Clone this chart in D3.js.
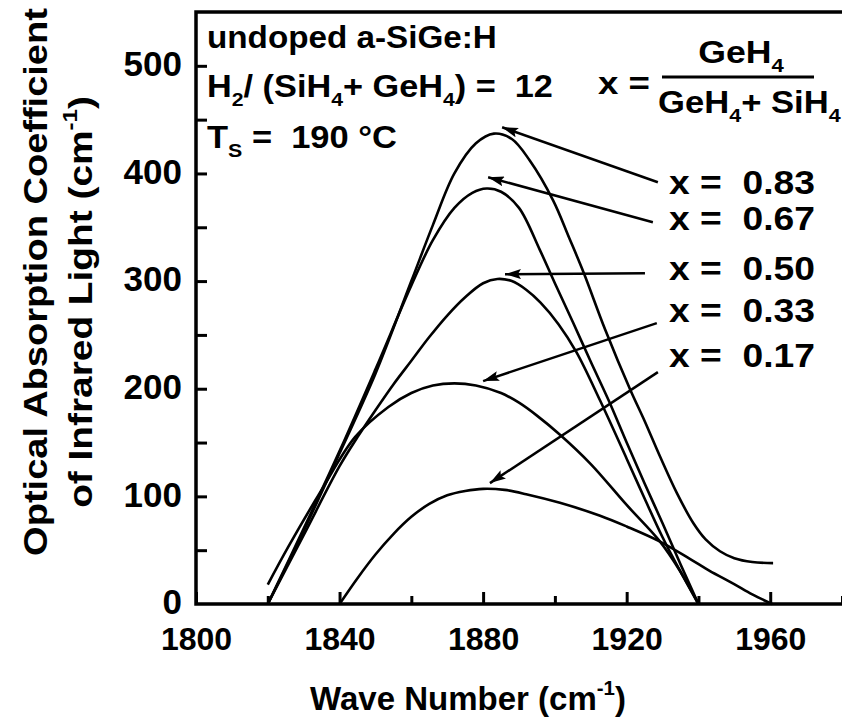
<!DOCTYPE html>
<html><head><meta charset="utf-8">
<script src="https://cdn.jsdelivr.net/npm/d3@7"></script>
<style>
html,body{margin:0;padding:0;background:#fff;}
svg text{font-family:"Liberation Sans",Arial,Helvetica,sans-serif;font-weight:bold;fill:#000;}
</style></head><body>
<svg id="chart" width="842" height="722"></svg>
<script>
// ---------- data ----------
const waveMinorTicks = [1820,1860,1900,1940,1980];
const waveMajorTicks = [1800,1840,1880,1920,1960];
const alphaTicks = [50,100,150,200,250,300,350,400,450,500];
const alphaLabels = [0,100,200,300,400,500];

const wn083 = [1820,1830,1840,1850,1860,1866,1872,1878,1883,1888,1893,1899.5,1904,1908,1914,1921,1925,1929.3,1934,1938.6,1942,1946,1950,1955,1960.8];
const al083 = [0,68,140,214,300,352,400,428,437,432,412,375,340,308,255,199,170,137,103,75,60,49,42.5,39,38];

const wn067 = [1820,1830,1840,1850,1860,1866,1872,1877,1881,1885,1890,1895.8,1900,1905,1910,1915,1920,1925,1930,1935,1940];
const al067 = [0,70,142,218,296,338,368,382,386,383,368,329,298,262,225,189,150,112,75,37,0];

const wn050 = [1820,1830,1840,1845,1850,1855,1860,1865,1870,1875,1880,1884,1888,1892,1896,1901,1906,1912.6,1920,1925,1930,1935,1940];
const al050 = [0,64,128,155,180,204,226,248,268,285,298,302,300,292,280,260,234,189,135,98,62,30,0];

const wn033 = [1820,1825.7,1835,1844.3,1853.6,1860,1866,1872,1878,1885,1890,1895,1901.5,1910,1920,1929.3,1935,1940];
const al033 = [18,53,106,155,183,196,203,205,203,196,187,175,157,130,92,58,30,0];

const wn017 = [1840,1845,1850,1855,1860,1865,1870,1875,1880,1886,1892,1901.4,1912.6,1920,1929.3,1937.6,1943,1949.7,1955,1960.5];
const al017 = [0,24,46,65,81,93,101,105,107,106,102,94,82,72,58,42,31,19,9,0];

const seriesNames = ["0.83","0.67","0.50","0.33","0.17"];
// arrow annotations: [tailWave, tailAlpha, tipWave, tipAlpha]
const arrow083 = [1928.7,391.8,1885.3,442.9];
const arrow067 = [1927.3,354.7,1881.4,396.5];
const arrow050 = [1925.1,307.3,1886.1,306.4];
const arrow033 = [1928.4,260.9,1880.0,207.1];
const arrow017 = [1928.7,215.4,1881.9,112.3];

// ---------- chart ----------
const svg = d3.select("#chart");
const x = d3.scaleLinear().domain([1800,1980]).range([196,842]);
const y = d3.scaleLinear().domain([0,550]).range([604,12]);

function fitText(t, x0, y0, width, anchor){
  t.attr("text-anchor", anchor||"start").attr("x",0).attr("y",0);
  const w = t.node().getBBox().width;
  const sx = width ? width / w : 1;
  t.attr("transform", `translate(${x0},${y0}) scale(${sx},1)`);
  return t;
}
function rich(g, parts, size){
  const t = g.append("text").attr("font-size", size).attr("xml:space","preserve");
  parts.forEach(p=>{
    const s = t.append("tspan").text(p[0]);
    if (p[1]==="sub") s.attr("font-size", size*0.62).attr("dy", size*0.3);
    if (p[1]==="sup") s.attr("font-size", size*0.62).attr("dy", -size*0.45);
    if (p[1]==="base") s.attr("dy", p[2]);
  });
  return t;
}

// frame
svg.append("path")
  .attr("d", `M${x(1980)+20},${y(550)} H${x(1800)} V${y(0)} H${x(1980)+20}`)
  .attr("fill","none").attr("stroke","#000").attr("stroke-width",3.5);

// x axis
const gx = svg.append("g").attr("transform",`translate(0,${y(0)})`);
gx.call(d3.axisBottom(x).tickValues(waveMajorTicks).tickSize(-12).tickPadding(23).tickFormat(d3.format("d")));
const gx2 = svg.append("g").attr("transform",`translate(0,${y(0)})`);
gx2.call(d3.axisBottom(x).tickValues(waveMinorTicks).tickSize(-8).tickFormat(""));
[gx,gx2].forEach(g=>{g.select(".domain").remove(); g.selectAll("line").attr("stroke","#000").attr("stroke-width",3);});
gx.selectAll("text").attr("font-size",32).attr("fill","#000").attr("dy","0.71em")
  .attr("font-family",'"Liberation Sans",Arial,sans-serif').attr("font-weight","bold");

// y axis
const gy = svg.append("g").attr("transform",`translate(${x(1800)},0)`);
gy.call(d3.axisLeft(y).tickValues(alphaTicks).tickSize(-11).tickFormat(""));
gy.select(".domain").remove();
gy.selectAll("line").attr("stroke","#000").attr("stroke-width",3);
const gyl = svg.append("g").attr("transform",`translate(${x(1800)},0)`);
gyl.call(d3.axisLeft(y).tickValues(alphaLabels).tickSize(0).tickPadding(14).tickFormat(d3.format("d")));
gyl.select(".domain").remove();
gyl.selectAll("text").attr("font-size",35).attr("fill","#000").attr("dy","0.28em")
  .attr("font-family",'"Liberation Sans",Arial,sans-serif').attr("font-weight","bold");

// curves
const line = d3.line().x(d=>x(d[0])).y(d=>y(d[1])).curve(d3.curveCatmullRom.alpha(0.5));
const seriesData = [[wn083,al083],[wn067,al067],[wn050,al050],[wn033,al033],[wn017,al017]]
  .map(([w,a])=>w.map((v,i)=>[v,a[i]]));
svg.append("g").selectAll("path").data(seriesData).join("path")
  .attr("d", line).attr("fill","none").attr("stroke","#000").attr("stroke-width",2.6);

// arrows
svg.append("defs").append("marker").attr("id","ah")
  .attr("viewBox","0 0 16 10").attr("refX",16).attr("refY",5)
  .attr("markerWidth",16).attr("markerHeight",10).attr("markerUnits","userSpaceOnUse")
  .attr("orient","auto")
  .append("path").attr("d","M0,0 L16,5 L0,10 L3,5 Z").attr("fill","#000");
const arrows = [arrow083,arrow067,arrow050,arrow033,arrow017];
svg.append("g").selectAll("line").data(arrows).join("line")
  .attr("x1",d=>x(d[0])).attr("y1",d=>y(d[1]))
  .attr("x2",d=>x(d[2])).attr("y2",d=>y(d[3]))
  .attr("stroke","#000").attr("stroke-width",2.5).attr("marker-end","url(#ah)");

// series labels
const labelBase = [194,230,280,322,367];
seriesNames.forEach((n,i)=>{
  const t = svg.append("text").attr("font-size",33).attr("xml:space","preserve").text("x =  " + n);
  fitText(t, 669, labelBase[i], 146);
});

// annotations
const S = 31;
const a1 = svg.append("text").attr("font-size",S).text("undoped a-SiGe:H");
fitText(a1, 207, 48, 290);
const a2 = rich(svg, [["H"],["2","sub"],["/ (SiH","base",-S*0.3],["4","sub"],["+ GeH","base",-S*0.3],["4","sub"],[") =  12","base",-S*0.3]], S);
fitText(a2, 207, 97, 346);
const a3 = rich(svg, [["T"],["S","sub"],[" =  190 °C","base",-S*0.3]], S);
fitText(a3, 207, 148, 190);
const a4 = svg.append("text").attr("font-size",S).text("x =");
fitText(a4, 598, 94, 52);
const a5 = rich(svg, [["GeH"],["4","sub"]], S);
fitText(a5, 741, 63, 86, "middle");
svg.append("line").attr("x1",662).attr("x2",814).attr("y1",77).attr("y2",77).attr("stroke","#000").attr("stroke-width",3);
const a6 = rich(svg, [["GeH"],["4","sub"],["+ SiH","base",-S*0.3],["4","sub"]], S);
fitText(a6, 658, 113, 183);

// axis titles
const xt = rich(svg, [["Wave Number (cm"],["-1","sup"],[")","base",33*0.45]], 33);
fitText(xt, 468, 710, 316, "middle");
const yt1 = svg.append("text").attr("font-size",33).attr("text-anchor","middle").text("Optical Absorption Coefficient");
{
  const w = yt1.node().getBBox().width;
  yt1.attr("transform",`translate(47,282) rotate(-90) scale(${548/w},1)`);
}
const yt2 = rich(svg, [["of Infrared Light (cm"],["-1","sup"],[")","base",33*0.45]], 33).attr("text-anchor","middle");
{
  const w = yt2.node().getBBox().width;
  yt2.attr("transform",`translate(92,302) rotate(-90) scale(${412/w},1)`);
}
</script></body></html>
